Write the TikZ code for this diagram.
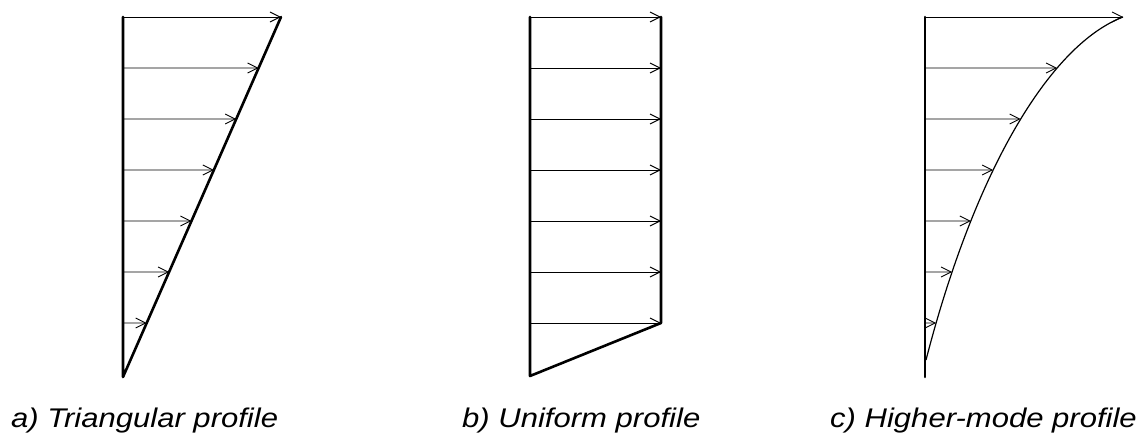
\documentclass[tikz,border=0pt]{standalone}
\usepackage{fontspec}
\setmainfont{Liberation Sans}
\usetikzlibrary{arrows.meta,calc,intersections}
\tikzset{
  wall/.style={line width=2.6pt, line cap=round, line join=round},
  load/.style={line width=0.9pt, -{Straight Barb[length=10pt,width=10pt,line width=0.9pt]}},
  curveline/.style={line width=1.2pt},
  caption/.style={anchor=base west, inner sep=0pt, font=\fontsize{27}{30}\selectfont\itshape}
}
\begin{document}
\begin{tikzpicture}[x=1pt,y=-1pt]
\useasboundingbox (0,0) rectangle (1141,436);
% ---------- a) triangular
\coordinate (aTop) at (123,17);
\coordinate (aBot) at (123,377);
\coordinate (aTip) at (281,17);
\draw[wall] (aTop) -- (aBot) -- (aTip);
\foreach \y [count=\i] in {17,68,119,170,221,272,323}{
  \coordinate (aS\i) at (123,\y);
  \coordinate (aE\i) at ($(aBot)!{(377-\y)/360}!(aTip)$);
  \draw[load] (aS\i) -- (aE\i);
}
% ---------- b) uniform
\coordinate (bTL) at (530,17);
\coordinate (bBL) at (530,376);
\coordinate (bTR) at (661,17);
\coordinate (bBR) at (661,323);
\draw[wall] (bTL) -- (bBL) -- (bBR) -- (bTR);
\foreach \y [count=\i] in {17,68,119,170,221,272,323}{
  \coordinate (bS\i) at (530,\y);
  \coordinate (bE\i) at (661,\y);
  \draw[load] (bS\i) -- (bE\i);
}
% ---------- c) higher-mode
\coordinate (cTop) at (925,17);
\coordinate (cBot) at (925,377);
\coordinate (c0) at (926,360);
\coordinate (cE1) at (1123,17);
\draw[wall] (cTop) -- (cBot);
\draw[curveline, name path=curve] (c0) .. controls (975,170) and (1050,45) .. (cE1);
\foreach \y [count=\i from 2] in {68,119,170,221,272,323}{
  \path[name path=h\i] (930,\y) -- (1141,\y);
  \path[name intersections={of=curve and h\i, by=cE\i}];
}
\foreach \y [count=\i] in {17,68,119,170,221,272,323}{
  \coordinate (cS\i) at (925,\y);
  \draw[load] (cS\i) -- (cE\i);
}
% ---------- captions
\node[caption] (capA) at (11,427) {\scalebox{1.15}[1]{a) Triangular profile}};
\node[caption] (capB) at (462,427) {\scalebox{1.15}[1]{b) Uniform profile}};
\node[caption] (capC) at (830,427) {\scalebox{1.15}[1]{c) Higher-mode profile}};
\end{tikzpicture}
\end{document}
